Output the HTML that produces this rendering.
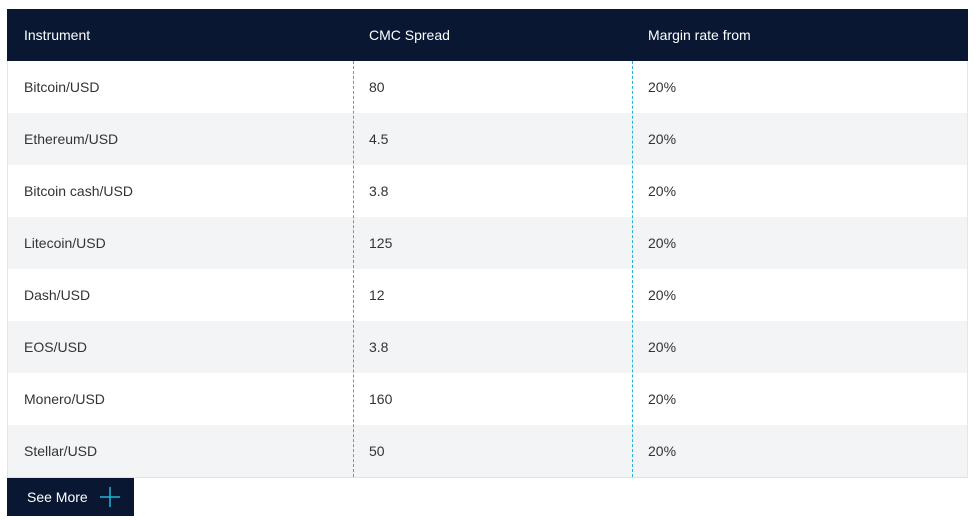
<!DOCTYPE html>
<html><head><meta charset="utf-8"><style>
body{margin:0;width:976px;height:520px;background:#fff;font-family:"Liberation Sans",sans-serif;position:relative;overflow:hidden}
.t{position:absolute;left:7px;top:9px;width:961px}
.hd{height:52px;background:#0a1733;color:#fff;position:relative;font-size:14px}
.row{height:52px;position:relative;font-size:14px;color:#333;border-left:1px solid #e3e5e8;border-right:1px solid #e3e5e8;box-sizing:border-box}
.row:nth-child(even){background:#f3f4f6}
.c{position:absolute;top:0;line-height:52px}
.hd .c1{left:17px}.hd .c2{left:362px}.hd .c3{left:641px}
.row .c1{left:16px}.row .c2{left:361px}.row .c3{left:640px}
.dl{position:absolute;top:52px;height:416px;border-left:1px dashed #1fb6d8;width:0;z-index:2}
.btn{position:absolute;left:7px;top:478px;width:127px;height:38px;background:#0a1733;color:#fff;font-size:14px;line-height:38px}
</style></head><body>
<div class="t">
<div class="hd">
<span class="c c1">Instrument</span>
<span class="c c2">CMC Spread</span>
<span class="c c3">Margin rate from</span>
</div>
<div id="body"></div>
<div class="dl" style="left:346px"></div>
<div class="dl" style="left:625px"></div>
<div style="position:absolute;left:0;top:468px;width:961px;border-top:1px solid #dfe1e4"></div>
</div>
<div class="btn">
<span style="position:absolute;left:20px">See More</span>
<svg style="position:absolute;left:92px;top:8px" width="22" height="22"><path d="M11 1V21M1 11H21" stroke="#1fb6d8" stroke-width="1.5"/></svg>
</div>
<script>
const instruments=["Bitcoin/USD","Ethereum/USD","Bitcoin cash/USD","Litecoin/USD","Dash/USD","EOS/USD","Monero/USD","Stellar/USD"];
const spreads=["80","4.5","3.8","125","12","3.8","160","50"];
const margins=["20%","20%","20%","20%","20%","20%","20%","20%"];
const b=document.getElementById('body');
instruments.forEach((n,i)=>{
const r=document.createElement('div');r.className='row';


r.innerHTML='<span class="c c1">'+n+'</span><span class="c c2">'+spreads[i]+'</span><span class="c c3">'+margins[i]+'</span>';
b.appendChild(r);
});
</script>
</body></html>
